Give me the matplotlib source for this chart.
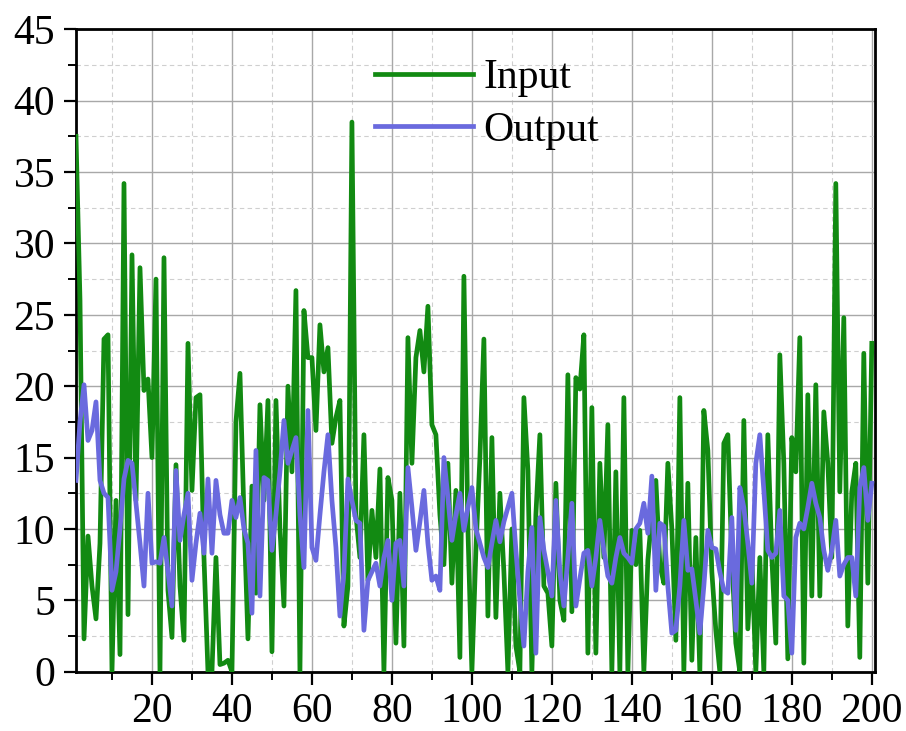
import matplotlib
matplotlib.use("Agg")
import matplotlib.pyplot as plt
from matplotlib.ticker import MultipleLocator

plt.rcParams['font.family'] = ['Liberation Serif', 'DejaVu Serif']

x_values = list(range(1, 201))

input_values = [
    37.5, 26, 2.3, 9.5, 6, 3.7, 9, 23.3, 23.6, 0,
    12, 1.2, 34.2, 4, 29.2, 12, 28.3, 19.7, 20.5, 15,
    27.5, 0, 29, 5.7, 2.4, 14.5, 6, 2.2, 23, 12.7,
    19.2, 19.4, 8, 0, 0, 8, 0.5, 0.6, 0.8, 0,
    17.5, 20.9, 11, 2.3, 13, 5.5, 18.7, 12, 19, 1.4,
    19, 10, 4.6, 20, 14, 26.7, 0, 25.3, 22, 22,
    16.9, 24.3, 21, 22.7, 16, 17.8, 19, 3.2, 6, 38.5,
    11, 8, 16.6, 6.4, 11.3, 8, 14.2, 0, 13.6, 12,
    2, 12.5, 1.8, 23.4, 14.6, 22, 23.9, 21, 25.6, 17.3,
    16.6, 11, 7.5, 14.6, 6.2, 12.7, 1, 27.7, 10, 0,
    8.5, 15, 23.3, 3.9, 16.4, 3.8, 12.5, 7, 0, 10,
    1.8, 0, 19.2, 14.1, 0, 11, 16.6, 6, 5.5, 1.8,
    13.2, 5, 3.6, 20.8, 4.2, 20.6, 19.8, 23.6, 1.3, 18.5,
    1.3, 14.6, 8, 17.3, 0, 14, 0, 19.2, 0, 9.9,
    7.5, 9.9, 0, 7.8, 11, 13.4, 7.5, 6.2, 14.6, 10,
    2.2, 19.2, 0, 13.2, 0.8, 9.4, 0, 18.3, 15.5, 7,
    2.9, 0, 16, 16.6, 8, 2, 0, 17.6, 3, 8,
    0, 8, 0, 16.6, 8, 2, 22.2, 14.6, 0.9, 16.4,
    14, 23.4, 0.6, 19.4, 5.3, 20.1, 5.3, 18.2, 14.6, 8,
    34.2, 12.6, 24.8, 3.2, 12.6, 14.6, 1, 22.3, 6.2, 23,
]

output_values = [
    13.4, 17.5, 20.1, 16.2, 16.9, 18.9, 13.4, 12.5, 12.2, 5.7,
    7, 10, 13.5, 14.8, 14.6, 11.8, 9, 6, 12.5, 7.6,
    7.7, 7.6, 9.4, 7, 4.6, 14.1, 9.2, 11, 12.5, 6.4,
    9, 11.1, 8.3, 13.5, 8.3, 13.4, 11, 9.7, 9.7, 12,
    10.8, 12.2, 10, 9, 4.1, 15.5, 5.3, 13.6, 13.4, 8.5,
    11, 14, 17.6, 14.6, 15.5, 16.4, 11, 7.3, 18.3, 8.7,
    7.8, 11, 14, 16.6, 12, 8.7, 3.9, 7, 13.5, 12,
    10.6, 10.4, 2.9, 6.4, 7, 7.6, 6, 8, 9.2, 5,
    9, 9.2, 6, 14.3, 11.5, 8.5, 10.5, 12.7, 9, 6.4,
    6.7, 5.7, 15, 12.2, 9.2, 11, 12.5, 9.9, 11.5, 12.9,
    10, 9, 8, 7.3, 9, 10.6, 9.1, 10.5, 11.5, 12.5,
    8.5, 5, 1.8, 7, 10.1, 1.3, 10.8, 8.5, 7, 5.3,
    12, 7, 4.6, 8, 11.8, 4.6, 6.5, 8.3, 8.5, 6,
    8, 10.6, 8.5, 6.7, 6.2, 8, 9.4, 8.3, 8, 7.6,
    10, 10.4, 11.8, 9.7, 13.7, 5.7, 10.4, 10.2, 6, 2.7,
    2.9, 6, 10.6, 7.1, 7.2, 5, 2.7, 6, 9.9, 8.7,
    8.6, 7, 5.7, 5.5, 10.8, 2.9, 12.9, 11.5, 9, 6.2,
    14.6, 16.6, 12.7, 8.5, 8, 8.3, 11.3, 5.3, 5, 1.3,
    9.4, 10.4, 10, 11.5, 13.2, 11.8, 10.8, 8.5, 7.1, 8.5,
    10.6, 6.7, 7.5, 8, 8, 5.3, 12.9, 14.3, 10.6, 13.2,
]

series_labels = ["Input", "Output"]
x_ticks = [20, 40, 60, 80, 100, 120, 140, 160, 180, 200]
y_ticks = [0, 5, 10, 15, 20, 25, 30, 35, 40, 45]

W, H = 906, 731
fig = plt.figure(figsize=(W / 100, H / 100), dpi=100)
left, right, top, bottom = 76, 875, 29.3, 671.7
ax = fig.add_axes([left / W, 1 - bottom / H, (right - left) / W, (bottom - top) / H])

ax.plot(x_values, input_values, color='#128a12', lw=3.4, label=series_labels[0], zorder=3)
ax.plot(x_values, output_values, color='#6a6ade', lw=3.4, label=series_labels[1], zorder=4)

ax.set_xlim(1.0, 200.8)
ax.set_ylim(0, 45)
ax.set_xticks(x_ticks)
ax.set_yticks(y_ticks)
ax.xaxis.set_minor_locator(MultipleLocator(10))
ax.yaxis.set_minor_locator(MultipleLocator(2.5))

ax.grid(which='major', color='#a8a8a8', lw=1.0, ls='-', zorder=0)
ax.grid(which='minor', color='#cfcfcf', lw=0.8, ls=(0, (4, 3)), zorder=0)
ax.set_axisbelow(True)

ax.tick_params(which='major', direction='out', length=9, width=1.6, labelsize=30, pad=6,
               top=False, right=False)
ax.tick_params(which='minor', direction='out', length=5.5, width=1.4, top=False, right=False)
for s in ax.spines.values():
    s.set_linewidth(2.0)

leg = ax.legend(loc='upper left', bbox_to_anchor=(0.353, 0.98), frameon=False,
                fontsize=30, handlelength=2.35, handletextpad=0.25, labelspacing=0.33,
                borderaxespad=0)
for line in leg.get_lines():
    line.set_linewidth(3.4)

fig.savefig("out.png", dpi=100)
